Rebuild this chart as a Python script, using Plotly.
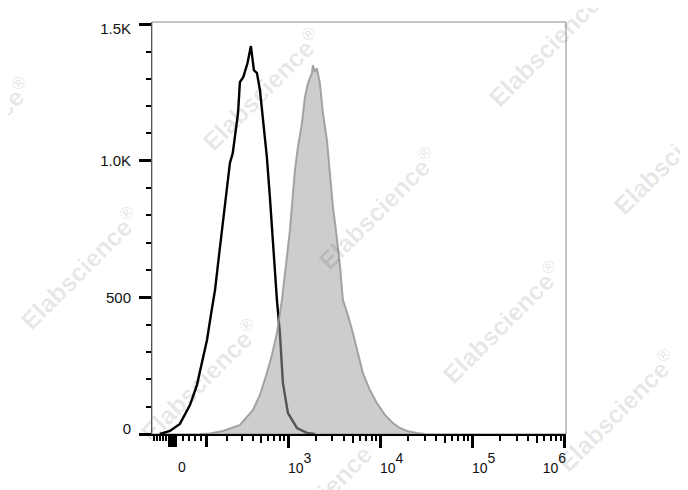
import numpy as np
import plotly.graph_objects as go

# ---------------- data ----------------
# Control sample (black outline histogram): fluorescence intensity vs. event count
ctrl_intensity = [-49, -18, 12, 43, 66, 87, 103, 119, 137, 156,
                  171, 187, 216, 234, 271, 285, 312, 349, 382, 413,
                  447, 483, 521, 577, 623, 656, 708, 745, 803, 866,
                  983, 1233, 1584, 1936]
ctrl_count = [0, 11, 37, 106, 179, 271, 344, 436, 527, 655,
              746, 845, 992, 1028, 1175, 1288, 1306, 1357, 1420, 1332,
              1321, 1259, 1160, 1013, 867, 746, 600, 490, 369, 187,
              77, 22, 4, 0]

# Stained sample (gray filled histogram)
stain_intensity = [76, 115, 176, 285, 403, 483, 577, 656, 745, 803,
                   845, 935, 1034, 1172, 1264, 1398, 1507, 1624, 1796, 1841,
                   1936, 2035, 2140, 2194, 2366, 2615, 2818, 3038, 3275, 3619,
                   3902, 4421, 5010, 5677, 6433, 7662, 9131, 11150, 13620, 16225,
                   19330, 24820, 30320]
stain_count = [0, 2, 11, 33, 88, 143, 223, 289, 370, 435,
               490, 618, 746, 966, 1050, 1138, 1233, 1284, 1321, 1350,
               1325, 1339, 1303, 1284, 1175, 1076, 955, 831, 746, 618,
               490, 435, 370, 296, 223, 161, 113, 70, 40, 22,
               11, 4, 0]

# Axis ticks
SUP = "<sup><sup><span style='font-size:14px'>{}</span></sup></sup>"
x_zero_val, x_zero_text = 0, "0"
x_decade_vals = [1e3, 1e4, 1e5, 1e6]
x_decade_text = ["10" + SUP.format(3), "10" + SUP.format(4), "10" + SUP.format(5),
                 "10" + SUP.format(6) + "&nbsp;" * 11]
x_long_vals = [-20, -10, 100]
x_mid_vals = [500, 5e3, 5e4, 5e5]
x_minor_vals = ([-80, -70, -60, -50, -40, -30, 20, 40, 60, 80,
                 200, 300, 400, 600, 700, 800, 900]
                + [m * 10 ** e for e in (3, 4, 5) for m in (2, 3, 4, 6, 7, 8, 9)])
y_mid_vals = [500, 1000]
y_mid_text = ["500", "1.0K"]
y_top_val, y_top_text = 1500, "1.5K"
y_bottom_val, y_bottom_text = 0, "0"
y_minor_vals = [100, 200, 300, 400, 600, 700, 800, 900, 1100, 1200, 1300, 1400]

watermark_text = "Elabscience<sup>®</sup>"
# watermark centres in screenshot pixels
watermark_centres = [(-28, 138), (80, 268), (200, 380), (320, 495),
                     (262, 89), (378, 208), (502, 322), (617, 410),
                     (548, 45), (673, 153)]

# ---------------- biexponential-like display transform ----------------
COFACTOR = 120.0


def T(v):
    return np.arcsinh(np.asarray(v, dtype=float) / COFACTOR)


W, H = 688, 490
OFF = 8  # default page body margin
ML, MR, MT, MB = 152 - OFF, 122 + OFF, 22 - OFF, 56 + OFF
PW, PH = W - ML - MR, H - MT - MB

FONT = "Arial, Liberation Sans, sans-serif"
TXT = "#111111"

fig = go.Figure()

fig.add_trace(go.Scatter(
    x=T(ctrl_intensity), y=ctrl_count, mode="lines",
    line=dict(color="black", width=2.4), showlegend=False, hoverinfo="skip"))

fig.add_trace(go.Scatter(
    x=T(stain_intensity), y=stain_count, mode="lines", fill="tozeroy",
    fillcolor="rgba(160,160,160,0.53)",
    line=dict(color="rgba(150,150,150,0.85)", width=2), showlegend=False, hoverinfo="skip"))

# empty carriers so the overlaying label axes are drawn
for ya in ("y2", "y3"):
    fig.add_trace(go.Scatter(x=[None], y=[None], yaxis=ya, mode="lines",
                             showlegend=False, hoverinfo="skip"))
for xa in ("x2", "x3", "x4"):
    fig.add_trace(go.Scatter(x=[None], y=[None], xaxis=xa, mode="lines",
                             showlegend=False, hoverinfo="skip"))

annotations = []
for (cx, cy) in watermark_centres:
    annotations.append(dict(
        text=watermark_text, xref="paper", yref="paper",
        x=(cx - OFF - ML) / PW, y=(H - MB - (cy - OFF)) / PH,
        xanchor="center", yanchor="middle", showarrow=False, textangle=-45,
        font=dict(family=FONT, size=25, color="rgba(0,0,0,0.10)", weight="bold")))

x_tick_common = dict(overlaying="x", matches="x", anchor="y", side="bottom",
                     tickmode="array", ticks="outside", tickcolor="black",
                     showline=False, showgrid=False, zeroline=False,
                     automargin=False, tickfont=dict(size=14, color=TXT))
y_label_common = dict(overlaying="y", matches="y", anchor="x", side="left",
                      tickmode="array", ticks="outside", ticklen=12, tickwidth=3,
                      tickcolor="black", ticklabelstandoff=5,
                      showline=False, showgrid=False, zeroline=False, automargin=False,
                      tickfont=dict(size=15, color=TXT))

fig.update_layout(
    width=W, height=H,
    margin=dict(l=ML, r=MR, t=MT, b=MB, pad=0),
    paper_bgcolor="white", plot_bgcolor="white",
    font=dict(family=FONT, size=14, color=TXT),
    xaxis=dict(
        range=[float(T(-76)), float(T(1.03e6))],
        tickmode="array", tickvals=T(x_decade_vals).tolist(), ticktext=x_decade_text,
        ticks="outside", ticklen=12, tickwidth=3, tickcolor="black",
        ticklabelshift=11, ticklabelstandoff=8, automargin=False,
        minor=dict(tickmode="array", tickvals=T(x_minor_vals).tolist(), ticks="outside",
                   ticklen=5, tickwidth=1.8, tickcolor="black", showgrid=False),
        showline=True, linecolor="black", linewidth=2,
        showgrid=False, zeroline=False, tickfont=dict(size=14, color=TXT)),
    xaxis2=dict(tickvals=T(x_mid_vals).tolist(), ticklen=8, tickwidth=2.4,
                showticklabels=False, **x_tick_common),
    xaxis3=dict(tickvals=T(x_long_vals).tolist(), ticklen=12, tickwidth=3,
                showticklabels=False, **x_tick_common),
    xaxis4=dict(tickvals=T([x_zero_val]).tolist(), ticktext=[x_zero_text], ticklen=12,
                tickwidth=3, showticklabels=True, ticklabelshift=6, ticklabelstandoff=8,
                **x_tick_common),
    yaxis=dict(
        range=[0, 1508],
        tickmode="array", tickvals=y_mid_vals, ticktext=y_mid_text,
        ticks="outside", ticklen=12, tickwidth=3, tickcolor="black",
        ticklabelstandoff=5, automargin=False,
        minor=dict(tickmode="array", tickvals=y_minor_vals, ticks="outside",
                   ticklen=5, tickwidth=2, tickcolor="black", showgrid=False),
        showline=True, linecolor="#555555", linewidth=1,
        showgrid=False, zeroline=False, tickfont=dict(size=15, color=TXT)),
    yaxis2=dict(tickvals=[y_top_val], ticktext=[y_top_text], ticklabelshift=5,
                **y_label_common),
    yaxis3=dict(tickvals=[y_bottom_val], ticktext=[y_bottom_text], ticklabelshift=-5,
                **y_label_common),
    shapes=[dict(type="rect", xref="paper", yref="paper", x0=0, y0=0, x1=1, y1=1,
                 line=dict(color="#8a8a8a", width=1), layer="below")],
    annotations=annotations,
)

fig.write_html("out.html")
